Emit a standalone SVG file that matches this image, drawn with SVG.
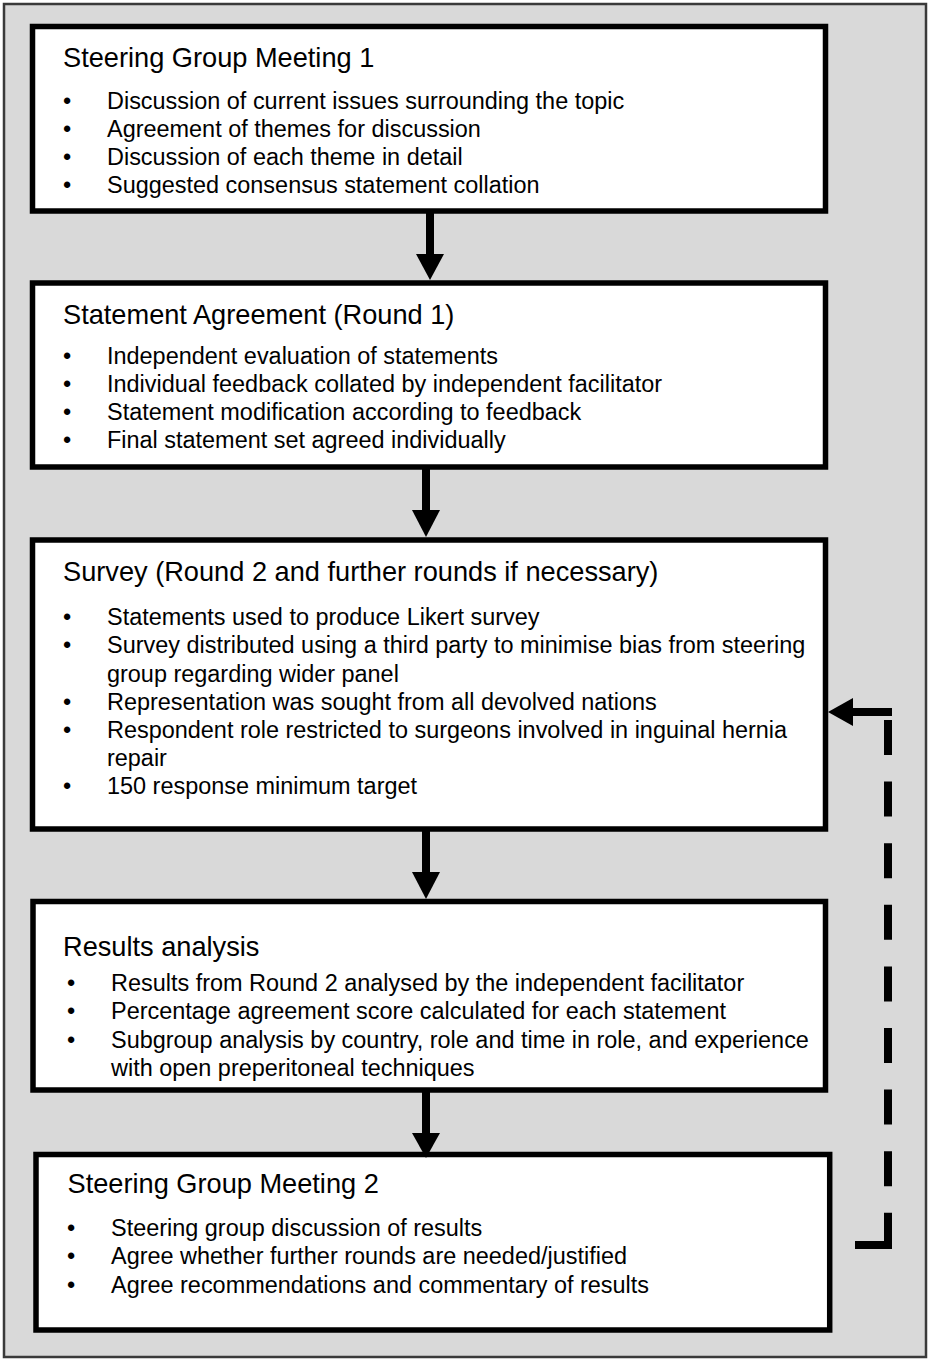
<svg xmlns="http://www.w3.org/2000/svg" width="931" height="1362" viewBox="0 0 931 1362">
<style>
.frame{fill:#d9d9d9;stroke:#3a3a3a;stroke-width:2.5}
.box{fill:#ffffff;stroke:#000000;stroke-width:5.5}
.title{font-family:"Liberation Sans",Arial,sans-serif;font-size:27.2px;fill:#000}
.item{font-family:"Liberation Sans",Arial,sans-serif;font-size:23.45px;fill:#000}
.bul{font-family:"Liberation Sans",Arial,sans-serif;font-size:23.45px;fill:#000;text-anchor:middle}
.shaft{stroke:#000;stroke-width:8;fill:none}
.head{fill:#000}
.dash{stroke:#000;stroke-width:8;fill:none}
</style>
<rect class="frame" x="4" y="4" width="922" height="1353"/>

<g id="node-sgm1">
<rect class="box" x="32.5" y="26.5" width="793" height="184.5"/>
<text class="title" x="63" y="67">Steering Group Meeting 1</text>
<text class="bul" x="67" y="109">•</text><text class="item" x="107" y="109">Discussion of current issues surrounding the topic</text>
<text class="bul" x="67" y="137">•</text><text class="item" x="107" y="137">Agreement of themes for discussion</text>
<text class="bul" x="67" y="165">•</text><text class="item" x="107" y="165">Discussion of each theme in detail</text>
<text class="bul" x="67" y="193">•</text><text class="item" x="107" y="193">Suggested consensus statement collation</text>
</g>

<g id="node-round1">
<rect class="box" x="32.5" y="283" width="793" height="184"/>
<text class="title" x="63" y="324">Statement Agreement (Round 1)</text>
<text class="bul" x="67" y="364.3">•</text><text class="item" x="107" y="364.3">Independent evaluation of statements</text>
<text class="bul" x="67" y="392">•</text><text class="item" x="107" y="392">Individual feedback collated by independent facilitator</text>
<text class="bul" x="67" y="420">•</text><text class="item" x="107" y="420">Statement modification according to feedback</text>
<text class="bul" x="67" y="448.3">•</text><text class="item" x="107" y="448.3">Final statement set agreed individually</text>
</g>

<g id="node-survey">
<rect class="box" x="32.5" y="540" width="793" height="289"/>
<text class="title" x="63" y="581">Survey (Round 2 and further rounds if necessary)</text>
<text class="bul" x="67" y="625">•</text><text class="item" x="107" y="625">Statements used to produce Likert survey</text>
<text class="bul" x="67" y="653.3">•</text><text class="item" x="107" y="653.3">Survey distributed using a third party to minimise bias from steering</text>
<text class="item" x="107" y="681.7">group regarding wider panel</text>
<text class="bul" x="67" y="710">•</text><text class="item" x="107" y="710">Representation was sought from all devolved nations</text>
<text class="bul" x="67" y="738.3">•</text><text class="item" x="107" y="738.3">Respondent role restricted to surgeons involved in inguinal hernia</text>
<text class="item" x="107" y="766">repair</text>
<text class="bul" x="67" y="794">•</text><text class="item" x="107" y="794">150 response minimum target</text>
</g>

<g id="node-results">
<rect class="box" x="33" y="901.5" width="792.5" height="188.5"/>
<text class="title" x="63" y="956">Results analysis</text>
<text class="bul" x="71" y="991">•</text><text class="item" x="111" y="991">Results from Round 2 analysed by the independent facilitator</text>
<text class="bul" x="71" y="1019.3">•</text><text class="item" x="111" y="1019.3">Percentage agreement score calculated for each statement</text>
<text class="bul" x="71" y="1047.7">•</text><text class="item" x="111" y="1047.7">Subgroup analysis by country, role and time in role, and experience</text>
<text class="item" x="111" y="1076">with open preperitoneal techniques</text>
</g>

<g id="node-sgm2">
<rect class="box" x="36" y="1154.5" width="793.7" height="175.5"/>
<text class="title" x="67.5" y="1193.3">Steering Group Meeting 2</text>
<text class="bul" x="71" y="1236">•</text><text class="item" x="111" y="1236">Steering group discussion of results</text>
<text class="bul" x="71" y="1264.3">•</text><text class="item" x="111" y="1264.3">Agree whether further rounds are needed/justified</text>
<text class="bul" x="71" y="1292.7">•</text><text class="item" x="111" y="1292.7">Agree recommendations and commentary of results</text>
</g>

<g id="connectors">
<g id="arrow-1">
<line class="shaft" x1="430" y1="213" x2="430" y2="255"/>
<polygon class="head" points="416,254 444,254 430,280"/>
</g>
<g id="arrow-2">
<line class="shaft" x1="426" y1="469" x2="426" y2="511"/>
<polygon class="head" points="412,510 440,510 426,537"/>
</g>
<g id="arrow-3">
<line class="shaft" x1="426" y1="831" x2="426" y2="873"/>
<polygon class="head" points="412,872 440,872 426,899"/>
</g>
<g id="arrow-4">
<line class="shaft" x1="426" y1="1092" x2="426" y2="1134"/>
<polygon class="head" points="412,1133 440,1133 426,1158"/>
</g>
<g id="feedback-loop">
<path class="dash" d="M855 1245 H888 V1213" stroke-linejoin="miter"/>
<path class="dash" d="M888 720 V1213" stroke-dasharray="35 26.6"/>
<path class="dash" d="M892 712 H852"/>
<polygon class="head" points="828,712 853,698 853,726"/>
</g>
</g>
</svg>
